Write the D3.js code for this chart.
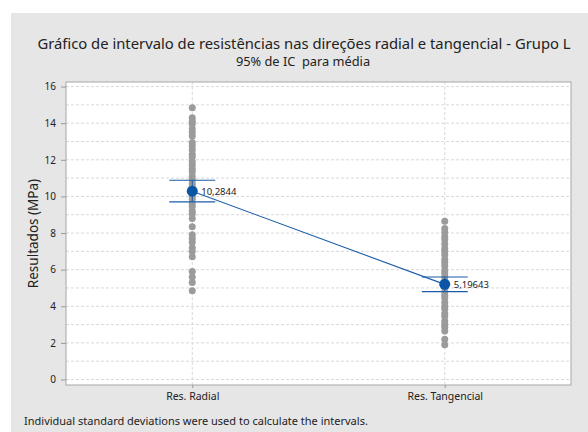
<!DOCTYPE html>
<html>
<head>
<meta charset="utf-8">
<script src="https://cdn.jsdelivr.net/npm/d3@7"></script>
<style>
  body { margin: 0; background: #fff; }
  text { font-family: "Noto Sans", "Open Sans", sans-serif; fill: #222; }
</style>
</head>
<body>
<div id="svganchor"></div>
<script>
let width = 588, height = 432;

let margin = ({top: 82, right: 17, bottom: 47, left: 66});

// data
let categories = ["Res. Radial", "Res. Tangencial"];

let radialValues = [14.85, 14.3, 14.1, 13.95, 13.7, 13.5, 13.3, 12.95, 12.75, 12.55, 12.3, 12.15,
    11.9, 11.7, 11.5, 11.35, 11.1, 10.9, 10.7, 10.55, 10.4, 10.2, 10.0, 9.85, 9.6, 9.45,
    9.2, 9.05, 8.8, 8.35, 7.9, 7.7, 7.5, 7.2, 7.0, 6.7, 5.9, 5.6, 5.3, 4.85];

let tangencialValues = [8.65, 8.25, 8.05, 7.8, 7.65, 7.4, 7.15, 7.0, 6.8, 6.55, 6.4, 6.2,
    5.95, 5.8, 5.6, 5.4, 5.2, 5.05, 4.8, 4.6, 4.45, 4.2, 4.0, 3.85, 3.6, 3.45, 3.2, 3.0,
    2.85, 2.65, 2.2, 1.9];

let means = [10.2844, 5.19643];
let meanLabels = ["10,2844", "5,19643"];
let ciLower = [9.70, 4.80];
let ciUpper = [10.88, 5.60];

let yTicks = [0, 2, 4, 6, 8, 10, 12, 14, 16];
let yGrid = d3.range(0, 17);

let svg = d3.select("#svganchor")
    .append("svg")
    .attr("width", width)
    .attr("height", height);

// background panel
svg.append("rect")
    .attr("x", 11).attr("y", 13)
    .attr("width", width - 11).attr("height", height - 13)
    .attr("fill", "#e6e6e6");

let xScale = d3.scalePoint()
    .domain(categories)
    .range([margin.left, width - margin.right])
    .padding(0.5);

let yScale = d3.scaleLinear()
    .domain([-0.3, 16.25])
    .range([height - margin.bottom, margin.top]);

// plot area
svg.append("rect")
    .attr("x", margin.left).attr("y", margin.top)
    .attr("width", width - margin.left - margin.right)
    .attr("height", height - margin.top - margin.bottom)
    .attr("fill", "#fff");

// grid
svg.append("g").selectAll("line")
    .data(yGrid)
    .enter().append("line")
    .attr("x1", margin.left).attr("x2", width - margin.right)
    .attr("y1", d => yScale(d)).attr("y2", d => yScale(d))
    .attr("stroke", "#d9d9d9")
    .attr("stroke-dasharray", "3,2");

svg.append("g").selectAll("line")
    .data(categories)
    .enter().append("line")
    .attr("x1", d => xScale(d)).attr("x2", d => xScale(d))
    .attr("y1", margin.top).attr("y2", height - margin.bottom)
    .attr("stroke", "#d9d9d9")
    .attr("stroke-dasharray", "3,2");

svg.append("rect")
    .attr("x", margin.left).attr("y", margin.top)
    .attr("width", width - margin.left - margin.right)
    .attr("height", height - margin.top - margin.bottom)
    .attr("fill", "none")
    .attr("stroke", "#a6a6a6");

// axes
let yAxis = d3.axisLeft(yScale)
    .tickValues(yTicks)
    .tickSizeOuter(0)
    .tickSizeInner(5)
    .tickPadding(5);

let xAxis = d3.axisBottom(xScale)
    .tickSizeOuter(0)
    .tickSizeInner(3)
    .tickPadding(5);

let gY = svg.append("g")
    .attr("class", "y axis")
    .attr("transform", "translate(" + margin.left + ",0)")
    .call(yAxis);

let gX = svg.append("g")
    .attr("class", "x axis")
    .attr("transform", "translate(0," + (height - margin.bottom) + ")")
    .call(xAxis);

[gX, gY].forEach(function(g) {
    g.select(".domain").remove();
    g.selectAll(".tick line").attr("stroke", "#999");
    g.selectAll(".tick text")
        .attr("fill", "#222")
        .style("font-size", "10px");
});
gX.selectAll(".tick text").style("font-size", "10.5px");

// individual values
let series = [radialValues, tangencialValues];
series.forEach(function(vals, i) {
    svg.append("g").selectAll("circle")
        .data(vals)
        .enter().append("circle")
        .attr("cx", xScale(categories[i]))
        .attr("cy", d => yScale(d))
        .attr("r", 3.5)
        .attr("fill", "#9b9b9b");
});

// interval lines
let blue = "#1a5ca8";
let half = 23;

svg.append("line")
    .attr("x1", xScale(categories[0])).attr("y1", yScale(means[0]))
    .attr("x2", xScale(categories[1])).attr("y2", yScale(means[1]))
    .attr("stroke", blue).attr("stroke-width", 1.1);

categories.forEach(function(c, i) {
    let x = xScale(c);
    let g = svg.append("g");
    g.append("line")
        .attr("x1", x).attr("x2", x)
        .attr("y1", yScale(ciLower[i])).attr("y2", yScale(ciUpper[i]))
        .attr("stroke", blue);
    [ciLower[i], ciUpper[i]].forEach(function(v) {
        g.append("line")
            .attr("x1", x - half).attr("x2", x + half)
            .attr("y1", yScale(v)).attr("y2", yScale(v))
            .attr("stroke", blue).attr("stroke-width", 1.1);
    });
    g.append("circle")
        .attr("cx", x).attr("cy", yScale(means[i]))
        .attr("r", 5.5)
        .attr("fill", "#0a55a5");
    g.append("text")
        .attr("x", x + 9).attr("y", yScale(means[i]) + 3.5)
        .style("font-size", "9.5px")
        .text(meanLabels[i]);
});

// titles
svg.append("text")
    .attr("text-anchor", "middle")
    .attr("x", 304).attr("y", 49)
    .style("font-size", "14.8px")
    .text("Gráfico de intervalo de resistências nas direções radial e tangencial - Grupo L");

svg.append("text")
    .attr("text-anchor", "middle")
    .attr("x", 303).attr("y", 66)
    .style("font-size", "12.8px")
    .style("white-space", "pre")
    .text("95% de IC  para média");

svg.append("text")
    .attr("text-anchor", "middle")
    .attr("transform", "translate(38," + (margin.top + (height - margin.bottom - margin.top) / 2) + ") rotate(-90)")
    .style("font-size", "13.5px")
    .text("Resultados (MPa)");

svg.append("text")
    .attr("x", 24).attr("y", 425)
    .style("font-size", "11px")
    .text("Individual standard deviations were used to calculate the intervals.");
</script>
</body>
</html>
